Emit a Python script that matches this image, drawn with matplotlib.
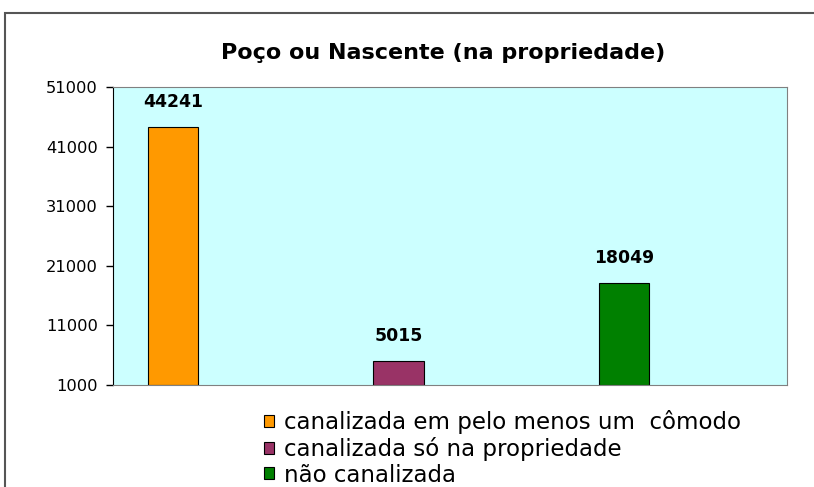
import matplotlib.pyplot as plt
from matplotlib.patches import Rectangle, Patch

plt.rcParams['font.family'] = ['DejaVu Sans']

# dados do grafico
series = ['canalizada em pelo menos um  cômodo', 'canalizada só na propriedade', 'não canalizada']
values = [44241, 5015, 18049]
colors = ['#FF9900', '#993366', '#008000']
yticks = [1000, 11000, 21000, 31000, 41000, 51000]

fig = plt.figure(figsize=(8.14, 4.87), dpi=100)

# moldura externa (cortada a direita e embaixo)
fig.patches.append(Rectangle((5 / 814, -0.1), 1.2, 1 - 13 / 487 + 0.1,
                             transform=fig.transFigure, fill=False,
                             edgecolor='#555555', linewidth=1.5))

ax = fig.add_axes([113 / 814, 1 - 385 / 487, 674 / 814, 298 / 487])
ax.set_facecolor('#CCFFFF')

pos = list(range(len(values)))
ax.bar(pos, [v - 1000 for v in values], bottom=1000, width=0.222,
       color=colors, edgecolor='black', linewidth=0.8)

for p, v in zip(pos, values):
    ax.annotate(str(v), (p, v), xytext=(0, 20), textcoords='offset pixels',
                ha='center', va='baseline', fontsize=12.4, fontweight='bold')

ax.set_ylim(1000, 51000)
ax.set_xlim(-0.266, 2.723)
ax.set_yticks(yticks)
ax.set_yticklabels([str(t) for t in yticks], fontsize=11.7)
ax.set_xticks([])
ax.tick_params(axis='y', length=5, width=1, direction='out', color='black', pad=6)

ax.spines['left'].set_color('black')
ax.spines['bottom'].set_color('#808080')
ax.spines['top'].set_color('#808080')
ax.spines['right'].set_color('#808080')

fig.text(443 / 814, 1 - 59 / 487, 'Poço ou Nascente (na propriedade)',
         ha='center', va='baseline', fontsize=16, fontweight='bold')

handles = [Patch(facecolor=c, edgecolor='black', linewidth=0.8) for c in colors]
fig.legend(handles, series, loc='upper left', bbox_to_anchor=(264 / 814, 1 - 410 / 487),
           frameon=False, prop={'size': 16.5},
           handlelength=0.42, handleheight=0.42,
           handletextpad=0.45, labelspacing=0.12, borderpad=0, borderaxespad=0)

fig.savefig('out.png', dpi=100)
